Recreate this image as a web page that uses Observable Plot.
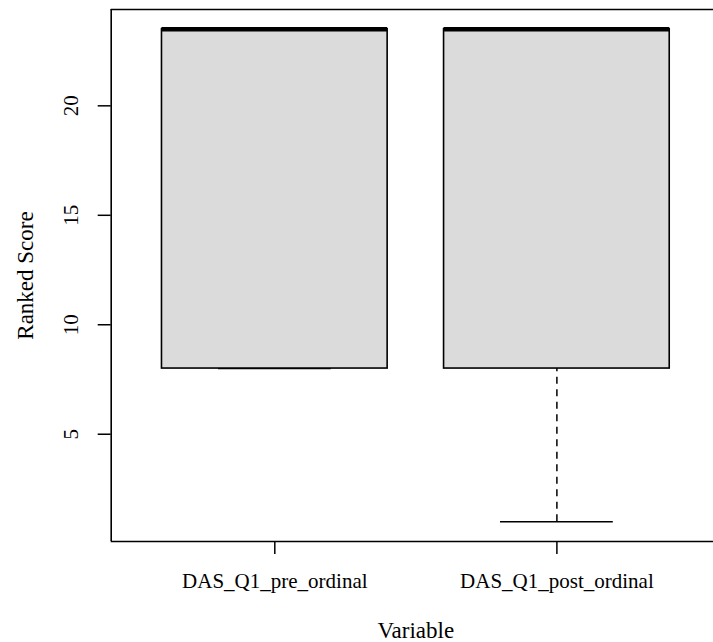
<!DOCTYPE html>
<html>
<head>
<meta charset="utf-8">
<script src="https://cdn.jsdelivr.net/npm/d3@7"></script>
<script src="https://cdn.jsdelivr.net/npm/@observablehq/plot@0.6"></script>
<style>
  html, body { margin: 0; padding: 0; background: #fff; overflow: hidden; }
  #chart { width: 713px; height: 642px; overflow: hidden; }
  #chart svg { display: block; max-width: none !important; width: 722px !important; height: 642px !important; }
</style>
</head>
<body>
<div id="chart"></div>
<script>
// ---- data ----
const categories = ["DAS_Q1_pre_ordinal", "DAS_Q1_post_ordinal"];
const whiskerLow = [8, 1];
const q1 = [8, 8];
const median = [23.5, 23.5];
const q3 = [23.5, 23.5];
const whiskerHigh = [23.5, 23.5];
const yTicks = [5, 10, 15, 20];
const xLabel = "Variable";
const yLabel = "Ranked Score";

const rows = categories.map((c, i) => ({
  name: c, pos: i + 1,
  lo: whiskerLow[i], q1: q1[i], med: median[i], q3: q3[i], hi: whiskerHigh[i]
}));

const xDomain = [0.42, 2.58];
const yDomain = [0.1, 24.4];
const half = 0.4;   // half box width (x units)
const capHalf = 0.2;
const font = "'Liberation Serif', 'DejaVu Serif', 'Times New Roman', serif";

const chart = Plot.plot({
  width: 722,
  height: 642,
  marginLeft: 110.7,
  marginRight: 2,
  marginTop: 9,
  marginBottom: 101,
  style: { fontFamily: font, fontSize: "21px", background: "#fff", color: "#000" },
  x: { type: "linear", domain: xDomain, axis: null },
  y: { domain: yDomain, axis: null },
  marks: [
    // whiskers (dashed)
    Plot.ruleX(rows, { x: "pos", y1: "q3", y2: "hi", stroke: "#000", strokeWidth: 1.5, strokeDasharray: "7,5.5" }),
    Plot.ruleX(rows, { x: "pos", y1: "lo", y2: "q1", stroke: "#000", strokeWidth: 1.5, strokeDasharray: "7,5.5" }),
    // whisker caps
    Plot.ruleY(rows, { y: "lo", x1: d => d.pos - capHalf, x2: d => d.pos + capHalf, stroke: "#000", strokeWidth: 1.5 }),
    Plot.ruleY(rows, { y: "hi", x1: d => d.pos - capHalf, x2: d => d.pos + capHalf, stroke: "#000", strokeWidth: 1.5 }),
    // boxes
    Plot.rect(rows, { x1: d => d.pos - half, x2: d => d.pos + half, y1: "q1", y2: "q3", fill: "#dbdbdb", stroke: "#000", strokeWidth: 1.6 }),
    // medians
    Plot.ruleY(rows, { y: "med", x1: d => d.pos - half, x2: d => d.pos + half, stroke: "#000", strokeWidth: 4.5 }),
    // plot-region box (its right side lies outside the 713px picture)
    Plot.ruleX([xDomain[0]], { x: d => d, y1: yDomain[0], y2: yDomain[1], stroke: "#000", strokeWidth: 1.6 }),
    Plot.ruleY(yDomain, { y: d => d, x1: xDomain[0], x2: xDomain[1], stroke: "#000", strokeWidth: 1.6 }),
    // axes
    Plot.axisY({ ticks: yTicks, tickSize: 13, tickPadding: 20, tickRotate: -90, tickFormat: d => String(d), fontSize: 21, strokeWidth: 1.5, label: null }),
    Plot.axisX({ ticks: rows.map(d => d.pos), tickFormat: d => categories[d - 1], tickSize: 13, tickPadding: 18.5, fontSize: 21, strokeWidth: 1.5, label: null }),
    // axis titles
    Plot.text([yLabel], { text: d => d, frameAnchor: "left", dx: -78, rotate: -90, textAnchor: "middle", lineAnchor: "bottom", fontSize: 23 }),
    Plot.text([xLabel], { text: d => d, frameAnchor: "bottom", dy: 96.5, textAnchor: "middle", lineAnchor: "bottom", fontSize: 23 })
  ]
});
document.getElementById("chart").appendChild(chart);
</script>
</body>
</html>
